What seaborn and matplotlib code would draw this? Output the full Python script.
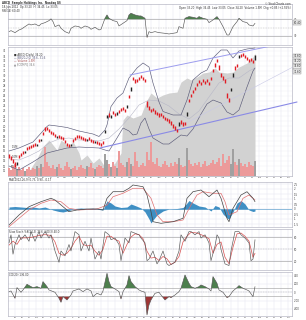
import numpy as np
import pandas as pd
import matplotlib
matplotlib.use("Agg")
import matplotlib.pyplot as plt
import seaborn as sns

# ---------------- data ----------------
days = list(range(124))
close = [13.6,13.2,12.6,11.8,12.8,13.6,14.0,14.4,15.0,15.2,15.4,15.6,15.8,16.0,16.4,16.8,17.4,18.2,19.0,19.2,
         18.8,18.4,18.2,17.8,18.0,17.6,17.4,17.2,16.6,16.0,15.8,16.4,16.8,17.2,17.6,17.6,17.4,17.2,17.0,17.4,
         17.2,16.8,16.6,17.0,16.4,16.2,16.0,16.4,19.2,22.2,21.8,22.2,22.4,22.0,22.8,22.6,23.0,23.2,22.8,24.2,
         25.6,27.8,29.2,28.6,28.8,29.2,29.6,29.2,28.8,23.8,23.2,22.8,23.0,22.4,22.2,21.8,22.0,21.6,21.2,21.0,
         20.6,20.2,19.6,19.2,18.8,20.8,20.4,20.0,20.2,22.8,24.8,25.8,26.6,27.2,28.0,28.6,28.2,28.8,28.4,28.8,
         28.2,29.2,30.8,31.8,32.8,31.2,29.8,29.2,28.6,25.6,24.8,27.6,30.6,31.2,31.8,34.2,33.8,34.0,33.6,33.2,
         32.8,33.0,32.6,34.2]
open_ = [14.4,14.0,13.4,12.8,12.2,14.2,14.6,15.0,14.6,15.8,16.0,16.2,16.4,16.6,16.0,17.4,17.0,18.8,19.8,19.8,
         19.4,19.0,18.8,18.4,17.6,18.2,18.0,17.8,17.2,16.6,16.4,16.0,17.4,17.8,18.2,18.2,18.0,17.8,17.6,17.0,
         17.8,17.4,17.2,16.6,17.0,16.8,16.6,17.0,18.6,21.6,22.6,21.6,23.0,22.6,22.2,23.2,23.6,23.8,23.4,23.6,
         26.2,27.0,29.8,29.4,29.4,29.8,30.2,29.8,29.4,25.0,24.0,23.4,23.6,23.2,22.8,22.6,22.6,22.2,21.8,21.6,
         21.4,21.0,20.4,20.0,19.4,20.0,21.2,20.8,20.8,22.0,25.4,26.4,27.2,27.8,28.6,29.2,28.8,29.4,29.0,29.4,
         28.8,29.8,31.4,32.6,33.4,32.2,30.6,30.0,29.4,26.6,25.6,27.0,29.8,32.0,32.4,33.6,34.4,34.6,34.2,33.8,
         33.4,33.6,33.2,33.2]
volume = [0.40,0.30,0.50,0.60,0.35,0.45,0.30,0.40,0.25,0.35,0.45,0.30,0.40,0.35,0.50,0.40,0.60,0.45,1.45,0.70,
          0.50,0.40,0.55,0.35,0.45,0.60,0.40,0.30,0.50,0.70,0.45,0.35,0.40,0.50,0.30,0.45,0.55,0.40,0.35,0.50,
          0.45,0.65,0.40,0.35,0.45,0.55,0.50,0.40,1.10,0.80,0.60,0.45,0.70,0.50,0.40,1.25,0.65,0.55,0.45,0.70,
          0.90,0.60,0.50,1.20,0.75,0.45,0.55,0.65,0.50,1.20,0.80,1.70,0.70,0.60,0.90,0.50,0.45,0.60,0.75,0.55,
          0.45,0.65,0.50,0.70,0.60,0.90,0.55,0.45,0.50,1.40,0.80,0.60,0.50,0.65,0.55,0.70,0.45,0.60,0.75,0.50,
          0.55,0.65,0.80,0.60,0.70,0.90,0.50,1.10,0.65,0.80,1.00,0.60,1.35,0.70,0.55,0.85,0.65,0.50,0.60,0.45,
          0.70,0.55,0.50,0.75]

comp_days = [10,14,17,20,24,26,30,32,35,36,39,42,45,49,53,56,57,59,62,66,69,71,74,77,80,84,86,89,91,94,97,100,103,105,109,112,115,119,122,123]
comp_vals = [11.0,13.5,15.9,17.2,15.2,17.2,15.9,16.9,14.6,13.2,14.2,12.6,13.6,11.2,12.6,14.6,21.2,22.2,21.6,22.2,
             25.2,26.6,25.6,26.2,26.6,26.8,28.8,29.6,29.2,29.8,30.6,30.8,31.6,30.8,30.6,30.8,31.8,32.6,33.8,34.6]

bb_up_days = [0,5,12,19,20,24,29,35,42,45,48,49,51,54,57,60,64,67,70,72,75,77,82,86,89,92,96,99,102,106,109,112,115,119,123]
bb_up_vals = [15.0,15.6,16.8,19.9,20.2,20.0,19.7,19.0,18.4,17.9,19.2,20.2,23.9,25.6,26.6,29.6,31.6,32.6,31.8,28.6,
              24.8,22.9,22.2,22.2,25.2,29.2,30.6,31.2,33.6,35.2,35.2,33.6,35.0,35.4,35.6]
bb_lo_days = [0,5,12,19,29,35,45,48,50,54,57,60,62,64,66,68,70,72,77,80,84,86,89,92,96,99,102,106,109,112,115,119,122,123]
bb_lo_vals = [12.0,11.2,12.8,14.6,15.6,15.8,15.6,15.2,15.0,17.6,19.6,19.0,18.2,18.4,20.6,21.6,19.4,17.6,16.4,16.4,
              17.6,18.2,18.0,19.4,22.4,24.4,25.2,24.6,22.8,22.2,23.2,27.8,31.0,31.6]
bb_mid_days = [0,5,10,15,20,25,30,35,40,45,50,55,60,65,70,75,80,85,90,95,100,105,110,115,120,123]
bb_mid_vals = [13.4,13.2,14.0,15.0,16.6,17.4,17.6,17.2,17.2,17.0,17.6,19.4,21.6,24.2,25.2,25.0,24.0,22.4,21.4,23.0,
               25.8,28.6,29.6,29.6,31.0,31.6]

trend_upper = ([60.5, 133.5], [30.2, 36.2])
trend_lower = ([45.5, 144.0], [15.6, 24.8])
trend_thin = ([82.0, 142.0], [19.2, 31.8])

rsi_days = [0,1,3,5,6,8,10,11,13,15,16,18,20,21,22,23,25,26,28,30,31,33,35,36,38,40,41,43,45,46,48,49,50,52,54,55,57,59,
            60,61,63,65,66,68,69,70,71,73,75,78,80,82,84,85,87,88,90,92,94,95,97,99,100,102,104,105,107,109,110,112,
            114,115,117,119,120,122,123]
rsi_vals = [40.4,42.8,38.0,44.4,46.0,52.4,58.8,56.4,58.8,54.0,58.8,62.0,66.8,71.0,64.4,52.4,56.4,48.4,40.4,36.4,
            48.4,54.0,52.4,48.4,54.0,50.8,46.0,50.8,44.4,46.0,72.4,80.4,72.4,66.8,64.4,54.0,60.4,66.8,80.4,84.4,
            80.4,78.0,78.0,72.4,26.8,40.4,38.0,40.4,38.0,36.4,34.8,36.4,38.0,52.4,48.4,72.4,76.4,74.8,72.4,76.4,
            72.4,70.0,62.0,68.4,76.4,70.0,52.4,32.4,32.4,52.4,64.4,72.4,64.4,62.0,56.4,54.0,60.4]

macd_days = [0,5,10,16,21,23,27,30,34,39,44,47,49,52,57,60,62,67,69,71,72,76,82,87,89,92,96,100,104,106,109,110,112,116,119,122,123]
macd_vals = [-1.6,-0.6,0.23,0.73,1.07,0.9,0.23,-0.27,-0.1,0.0,0.0,-0.1,1.07,1.73,1.73,2.07,2.4,2.23,1.4,-0.27,
             -1.27,-1.43,-1.27,-0.93,1.07,1.73,1.9,1.23,1.9,1.07,-0.93,-1.27,0.07,1.4,1.73,1.07,0.73]
sig_days = [0,5,10,16,21,26,30,35,44,49,52,57,62,67,71,74,77,82,87,91,94,97,102,106,108,110,114,117,120,123]
sig_vals = [-1.77,-0.93,-0.1,0.57,0.9,0.73,0.07,-0.1,0.0,0.4,1.23,1.57,2.07,2.07,1.07,-0.6,-1.27,-1.27,-1.1,0.4,
            1.4,1.73,1.57,1.57,0.73,-0.6,-0.27,1.07,1.4,0.9]
hist_days = [0,3,6,9,12,15,18,20,22,25,27,30,33,36,39,42,45,47,48,49,51,53,56,59,61,63,66,68,70,71,72,74,77,80,84,87,
             89,90,92,95,98,101,103,105,107,109,110,112,114,116,118,120,122,123]
hist_vals = [0.2,0.25,0.2,0.15,0.2,0.1,0.2,0.05,-0.1,-0.25,-0.3,-0.15,0.05,0.1,0.05,0.08,-0.05,-0.1,0.4,0.8,0.6,0.3,
             0.15,0.2,0.5,0.35,0.1,-0.3,-1.0,-1.4,-1.1,-0.6,-0.2,0.0,0.05,0.15,0.6,0.85,0.6,0.3,0.2,-0.2,0.35,0.2,
             -0.5,-0.9,-1.0,-0.3,0.6,0.85,0.5,-0.1,-0.25,-0.2]

stk_days = [0,1,2,3,5,6,8,10,11,13,15,16,18,20,21,23,25,26,28,30,31,33,35,36,38,40,41,43,45,46,48,50,51,53,55,56,58,
            60,61,63,65,66,68,69,70,72,74,75,77,79,80,83,85,86,88,90,91,93,95,96,98,100,101,103,104,105,106,108,110,
            111,113,115,116,118,120,121,122,123]
stk_k = [65.6,85.6,37.6,61.6,85.6,73.6,85.6,69.6,93.6,69.6,93.6,77.6,93.6,77.6,85.6,45.6,17.6,45.6,33.6,61.6,45.6,
         93.6,85.6,45.6,69.6,45.6,77.6,25.6,45.6,25.6,93.6,85.6,73.6,77.6,61.6,21.6,77.6,65.6,93.6,89.6,85.6,77.6,
         65.6,21.6,25.6,45.6,13.6,21.6,45.6,13.6,9.6,17.6,45.6,85.6,69.6,93.6,93.6,85.6,93.6,77.6,85.6,65.6,21.6,
         57.6,85.6,77.6,49.6,13.6,9.6,45.6,93.6,93.6,85.6,77.6,65.6,21.6,25.6,73.6]
stk_d_days = [0,2,4,6,9,12,15,18,21,23,25,27,29,31,33,35,37,39,41,43,45,47,49,51,53,55,57,59,61,63,65,67,69,71,73,75,
              77,79,81,83,85,87,89,91,94,97,100,102,104,106,108,110,112,114,116,118,120,122,123]
stk_d = [60,70,62,78,78,80,84,86,84,68,40,35,40,52,70,82,62,58,60,45,35,50,82,82,74,70,40,62,80,88,86,76,45,28,30,22,
         32,26,12,18,32,68,82,92,90,84,76,40,62,68,30,14,55,88,90,82,70,30,40]

cci_days = [0,1,3,4,6,7,9,11,12,14,16,17,19,20,23,25,26,27,29,31,32,35,37,39,41,42,44,46,47,49,50,51,53,55,56,57,59,
            60,61,63,65,66,68,69,70,71,73,75,76,78,80,81,83,85,86,88,90,91,93,95,96,98,100,101,102,104,105,107,109,
            110,112,114,115,117,119,120,122,123]
cci_vals = [16,32,-144,112,0,56,192,136,112,136,96,256,136,56,0,-144,-240,-104,-184,-64,32,80,16,80,32,-104,-24,-64,
            32,456,256,136,80,16,-160,16,176,400,256,136,56,32,0,-544,-304,-184,-24,0,-64,-184,-104,-128,-64,16,96,
            416,216,136,96,136,176,136,80,32,376,216,56,0,-128,-104,32,112,160,96,56,32,-104,136]

tick_pos = [-0.8 + 3.6 * k for k in range(40)]
tick_labels = ["6","13","20","27","Feb","10","17","24","Mar","9","16","23","30","Apr","13","20","27","May","11","18",
               "25","Jun","8","15","22","29","Jul","13","20","27","Aug","10","17","24","31","Sep","14","21","28","Oct"]

# ---------------- style ----------------
sns.set_theme(style="white")
plt.rcParams["font.family"] = ["DejaVu Sans"]
FS = 1.9
XFS = 1.5
GRID = "#e6e6f0"
SPINE = "#a8a8b8"
XLIM = (-0.5, 141.5)

fig = plt.figure(figsize=(3.06, 3.20), dpi=100)
fig.patch.set_facecolor("white")

L, W = 8 / 306, 284 / 306


def rect(top, bot):
    return [L, 1 - bot / 320, W, (bot - top) / 320]


def style(ax, yticks, ylabels=None, xlabels=False):
    ax.set_xticks(tick_pos)
    if xlabels:
        ax.set_xticklabels(tick_labels, fontsize=XFS, color="#444444")
    else:
        ax.set_xticklabels([])
    ax.set_yticks(yticks)
    ax.set_yticklabels(ylabels if ylabels is not None else [f"{v:g}" for v in yticks], fontsize=FS, color="#444444")
    ax.yaxis.tick_right()
    ax.tick_params(length=0, pad=1.2)
    ax.grid(True, color=GRID, lw=0.35)
    for s in ax.spines.values():
        s.set_color(SPINE)
        s.set_linewidth(0.4)


# ---------- RSI panel ----------
ax_r = fig.add_axes(rect(4, 45))
style(ax_r, [30, 70])
ax_r.axhline(70, color="#999999", lw=0.4)
ax_r.axhline(30, color="#999999", lw=0.4)
ax_r.axhline(50, color="#999999", lw=0.3, ls=(0, (2, 2)))
rsi_df = pd.DataFrame({"day": rsi_days, "rsi": rsi_vals})
ra = np.array(rsi_vals)
ax_r.fill_between(rsi_days, 70, ra, where=ra > 70, interpolate=True, color="#4d7f4d", lw=0)
ax_r.fill_between(rsi_days, 30, ra, where=ra < 30, interpolate=True, color="#9e3434", lw=0)
sns.lineplot(data=rsi_df, x="day", y="rsi", ax=ax_r, color="#555555", lw=0.45, sort=False, estimator=None)
fig.text(0.005, 0.997, "ABCD  Sample Holdings Inc.  Nasdaq GS", fontsize=FS, va="top", color="#333333", weight="bold")
fig.text(0.005, 0.984, "18-Jun-2012  Op 33.20  Hi 34.45  Lo 33.05", fontsize=FS, va="top", color="#333333")
fig.text(0.005, 0.971, "RSI(14) 60.40", fontsize=FS, va="top", color="#333333")
fig.text(0.95, 0.995, "\u00a9 StockCharts.com", fontsize=FS, va="top", ha="right", color="#333333")
fig.text(0.95, 0.982, "Open 33.20  High 34.45  Low 33.05  Close 34.20  Volume 1.5M  Chg +0.85 (+2.55%)",
         fontsize=FS, va="top", ha="right", color="#333333")
ax_r.text(1.005, 0.54, "60.40", transform=ax_r.transAxes, fontsize=FS, va="center",
          bbox=dict(boxstyle="square,pad=0.15", fc="#eeeeee", ec="#888888", lw=0.3))

# ---------- Price panel ----------
ax_p = fig.add_axes(rect(47, 176))
style(ax_p, list(range(11, 36)), xlabels=True)
ax_p.grid(True, axis="y", color="#ededf4", lw=0.3)
ax_p.tick_params(axis="x", pad=0.8)
ax_p.fill_between(comp_days, 10, comp_vals, color="#d2d2d2", lw=0)

ax_v = ax_p.twinx()
ax_v.patch.set_visible(False)
vcol = ["#ec9a9a" if c < o else "#a0a0a0" for c, o in zip(close, open_)]
ax_v.bar(days, volume, width=0.75, color=vcol, lw=0)
ax_v.yaxis.tick_left()
ax_v.set_yticks([0.5, 1.0, 1.5])
ax_v.set_yticklabels(["500K", "1.0M", "1.5M"], fontsize=FS, color="#444444")
ax_v.tick_params(length=0, pad=-7)
ax_v.grid(False)
for s in ax_v.spines.values():
    s.set_visible(False)

ax_c = ax_p.twinx()
ax_c.patch.set_visible(False)
ax_c.grid(False)
for s in ax_c.spines.values():
    s.set_visible(False)

sns.lineplot(x=bb_mid_days, y=bb_mid_vals, ax=ax_c, color="#b8b8c8", lw=0.4, sort=False, estimator=None)
sns.lineplot(x=bb_up_days, y=bb_up_vals, ax=ax_c, color="#5a5a78", lw=0.45, sort=False, estimator=None)
sns.lineplot(x=bb_lo_days, y=bb_lo_vals, ax=ax_c, color="#5a5a78", lw=0.45, sort=False, estimator=None)
ax_c.plot(*trend_thin, color="#c9c9e6", lw=0.4)
ax_c.plot(*trend_upper, color="#9c9cee", lw=0.7)
ax_c.plot(*trend_lower, color="#8a8ae6", lw=0.8, clip_on=False)
ccol = ["#e01c24" if c < o else "#222222" for c, o in zip(close, open_)]
ax_c.vlines(days, open_, close, colors=ccol, lw=1.0)
ax_c.set_yticks([])

ax_p.text(0.02, 0.955, "\u25a0 ABCD (Daily) 34.20", transform=ax_p.transAxes, fontsize=FS, va="top", color="#333333")
ax_p.text(0.02, 0.93, "\u2014 BB(20,2.0) 35.6, 31.6", transform=ax_p.transAxes, fontsize=FS, va="top", color="#555577")
ax_p.text(0.02, 0.905, "\u2014 Volume 1.5M", transform=ax_p.transAxes, fontsize=FS, va="top", color="#aa5555")
ax_p.text(0.02, 0.88, "\u25b2 $COMPQ 34.6", transform=ax_p.transAxes, fontsize=FS, va="top", color="#777777")
for yy, lab in [(0.93, "35.60"), (0.89, "34.20"), (0.85, "34.60"), (0.81, "31.60")]:
    ax_p.text(1.005, yy, lab, transform=ax_p.transAxes, fontsize=FS, va="center",
              bbox=dict(boxstyle="square,pad=0.12", fc="#eeeeee", ec="#888888", lw=0.3))

# ---------- MACD panel ----------
ax_m = fig.add_axes(rect(182, 227))
style(ax_m, [-1.5, -1.0, -0.5, 0, 0.5, 1.0, 1.5, 2.0, 2.5])
ax_m.fill_between(hist_days, 0, hist_vals, color="#3f8fc4", lw=0)
ax_m.axhline(0, color="#3f8fc4", lw=0.4)
sns.lineplot(x=sig_days, y=sig_vals, ax=ax_m, color="#e07070", lw=0.5, sort=False, estimator=None)
sns.lineplot(x=macd_days, y=macd_vals, ax=ax_m, color="#444444", lw=0.5, sort=False, estimator=None)
ax_m.text(0.005, 1.02, "MACD(12,26,9) 0.73, 0.90, -0.17", transform=ax_m.transAxes, fontsize=FS, color="#333333")

# ---------- Stochastic panel ----------
ax_s = fig.add_axes(rect(229, 270))
style(ax_s, [20, 50, 80])
ax_s.axhline(80, color="#999999", lw=0.4)
ax_s.axhline(20, color="#999999", lw=0.4)
ax_s.axhline(50, color="#999999", lw=0.3, ls=(0, (2, 2)))
sns.lineplot(x=stk_d_days, y=stk_d, ax=ax_s, color="#d85050", lw=0.5, sort=False, estimator=None)
sns.lineplot(x=stk_days, y=stk_k, ax=ax_s, color="#555555", lw=0.45, sort=False, estimator=None)
ax_s.text(0.005, 0.9, "Slow Stoch %K(14,3) 73.6  %D(3) 40.0", transform=ax_s.transAxes, fontsize=FS, color="#333333")

# ---------- CCI panel ----------
ax_i = fig.add_axes(rect(272, 316))
style(ax_i, [-400, -200, 0, 200, 400], xlabels=True)
ax_i.tick_params(axis="x", pad=0.6)
ca = np.array(cci_vals, dtype=float)
ax_i.fill_between(cci_days, 100, ca, where=ca > 100, interpolate=True, color="#4d7f4d", lw=0)
ax_i.fill_between(cci_days, -100, ca, where=ca < -100, interpolate=True, color="#9e3434", lw=0)
ax_i.axhline(100, color="#999999", lw=0.4)
ax_i.axhline(-100, color="#999999", lw=0.4)
ax_i.axhline(0, color="#999999", lw=0.3, ls=(0, (2, 2)))
sns.lineplot(x=cci_days, y=cci_vals, ax=ax_i, color="#555555", lw=0.45, sort=False, estimator=None)
ax_i.text(0.005, 0.9, "CCI(20) 136.00", transform=ax_i.transAxes, fontsize=FS, color="#333333")

# ---------- limits (set last so autoscaling cannot override) ----------
for a in [ax_r, ax_p, ax_v, ax_c, ax_m, ax_s, ax_i]:
    a.set_xlim(*XLIM)
    a.set_xlabel("")
    a.set_ylabel("")
ax_r.set_ylim(8.4, 106.6)
ax_p.set_ylim(10, 35.8)
ax_c.set_ylim(10, 35.8)
ax_v.set_ylim(0, 6.45)
ax_m.set_ylim(-1.8, 2.7)
ax_s.set_ylim(-1.5, 100)
ax_i.set_ylim(-569, 487)

fig.savefig("out.png", dpi=100, facecolor="white")
